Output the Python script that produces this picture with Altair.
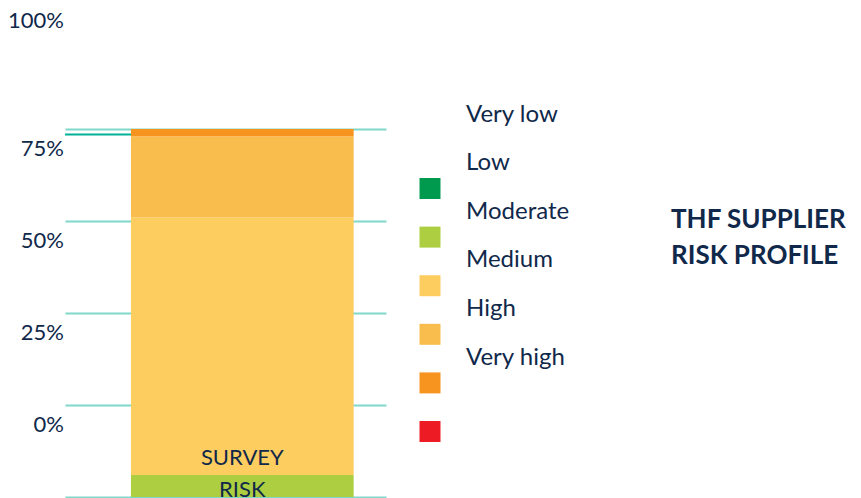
import altair as alt
import pandas as pd

# ---- data -------------------------------------------------------------
levels = ["Very low", "Low", "Moderate", "Medium", "High", "Very high"]
shares = [0, 6, 70, 22, 2, 0]
colors = ["#009a4e", "#acce40", "#fecd60", "#f9bd4d", "#f7941f", "#ed1c24"]
category = "SURVEY RISK"
tick_values = [0, 25, 50, 75, 100]
tick_labels = ["0%", "25%", "50%", "75%", "100%"]
title_lines = ["THF SUPPLIER", "RISK PROFILE"]
accent_level = [98.5]

navy = "#10284a"
grid_teal = "#7fd8c9"
dark_teal = "#00b294"
FONT = "Lato"

bar_df = pd.DataFrame({
    "category": [category] * len(levels),
    "level": levels,
    "share": shares,
    "rank": list(range(len(levels))),
})
tick_df = pd.DataFrame({"v": tick_values, "label": tick_labels})
legend_df = pd.DataFrame({"level": levels})
accent_df = pd.DataFrame({"y": accent_level})

color_scale = alt.Scale(domain=levels, range=colors)

bars = alt.Chart(bar_df).mark_bar().encode(
    x=alt.X(
        "category:N",
        title=None,
        scale=alt.Scale(paddingInner=0, paddingOuter=0.2207, align=0.671, round=False),
        axis=alt.Axis(
            labelExpr="split(datum.label, ' ')",
            labelAngle=0,
            labelFontSize=22,
            labelColor=navy,
            labelFont=FONT,
            labelBaseline="top",
            labelPadding=-50,
            labelLineHeight=32,
            ticks=False,
            tickSize=0,
            domain=False,
            grid=False,
            labelAlign="center",
            zindex=1,
        ),
    ),
    y=alt.Y(
        "share:Q",
        stack="zero",
        scale=alt.Scale(domain=[0, 100]),
        axis=alt.Axis(
            values=tick_values,
            grid=True,
            gridColor=grid_teal,
            gridWidth=2,
            labels=False,
            ticks=False,
            domain=False,
            title=None,
        ),
    ),
    color=alt.Color("level:N", scale=color_scale, legend=None),
    order=alt.Order("rank:Q", sort="ascending"),
)

accent = alt.Chart(accent_df).mark_rule(color=dark_teal, strokeWidth=2).encode(
    y=alt.Y("y:Q", scale=alt.Scale(domain=[0, 100]), axis=None),
    x=alt.value(0),
    x2=alt.value(66),
)

tick_text = alt.Chart(tick_df).mark_text(
    align="right",
    baseline="middle",
    fontSize=22,
    font=FONT,
    color=navy,
    dx=-1,
    dy=alt.expr("datum.v === 100 ? -36 : 0"),
).encode(
    y=alt.Y("v:Q", scale=alt.Scale(domain=[-19.5, 80.5]), axis=None),
    x=alt.value(0),
    text="label:N",
)

legend_y = alt.Y(
    "level:N",
    sort=levels,
    scale=alt.Scale(type="point", range=[59.5, 302.5], padding=0),
    axis=None,
)

swatches = alt.Chart(legend_df).mark_square(size=441, opacity=1).encode(
    y=legend_y,
    x=alt.value(365),
    color=alt.Color("level:N", scale=color_scale, legend=None),
)

legend_labels = alt.Chart(legend_df).mark_text(
    align="left",
    baseline="middle",
    fontSize=24,
    font=FONT,
    color=navy,
    dy=-74,
).encode(
    y=legend_y,
    x=alt.value(401),
    text="level:N",
)

chart = (
    alt.layer(bars, accent, tick_text, swatches, legend_labels)
    .resolve_scale(y="independent")
    .properties(
        width=321,
        height=368,
        autosize=alt.AutoSizeParams(type="none"),
        padding={"left": 65, "top": 129, "right": 475, "bottom": 1},
        title=alt.TitleParams(
            text=title_lines,
            anchor="start",
            frame="group",
            orient="top",
            baseline="top",
            offset=0,
            dx=606,
            dy=259,
            fontSize=26,
            font=FONT,
            fontWeight="bold",
            color=navy,
            lineHeight=36,
        ),
    )
    .configure_view(stroke=None)
)

chart.save("out.html", embed_options={"renderer": "svg", "actions": False})
